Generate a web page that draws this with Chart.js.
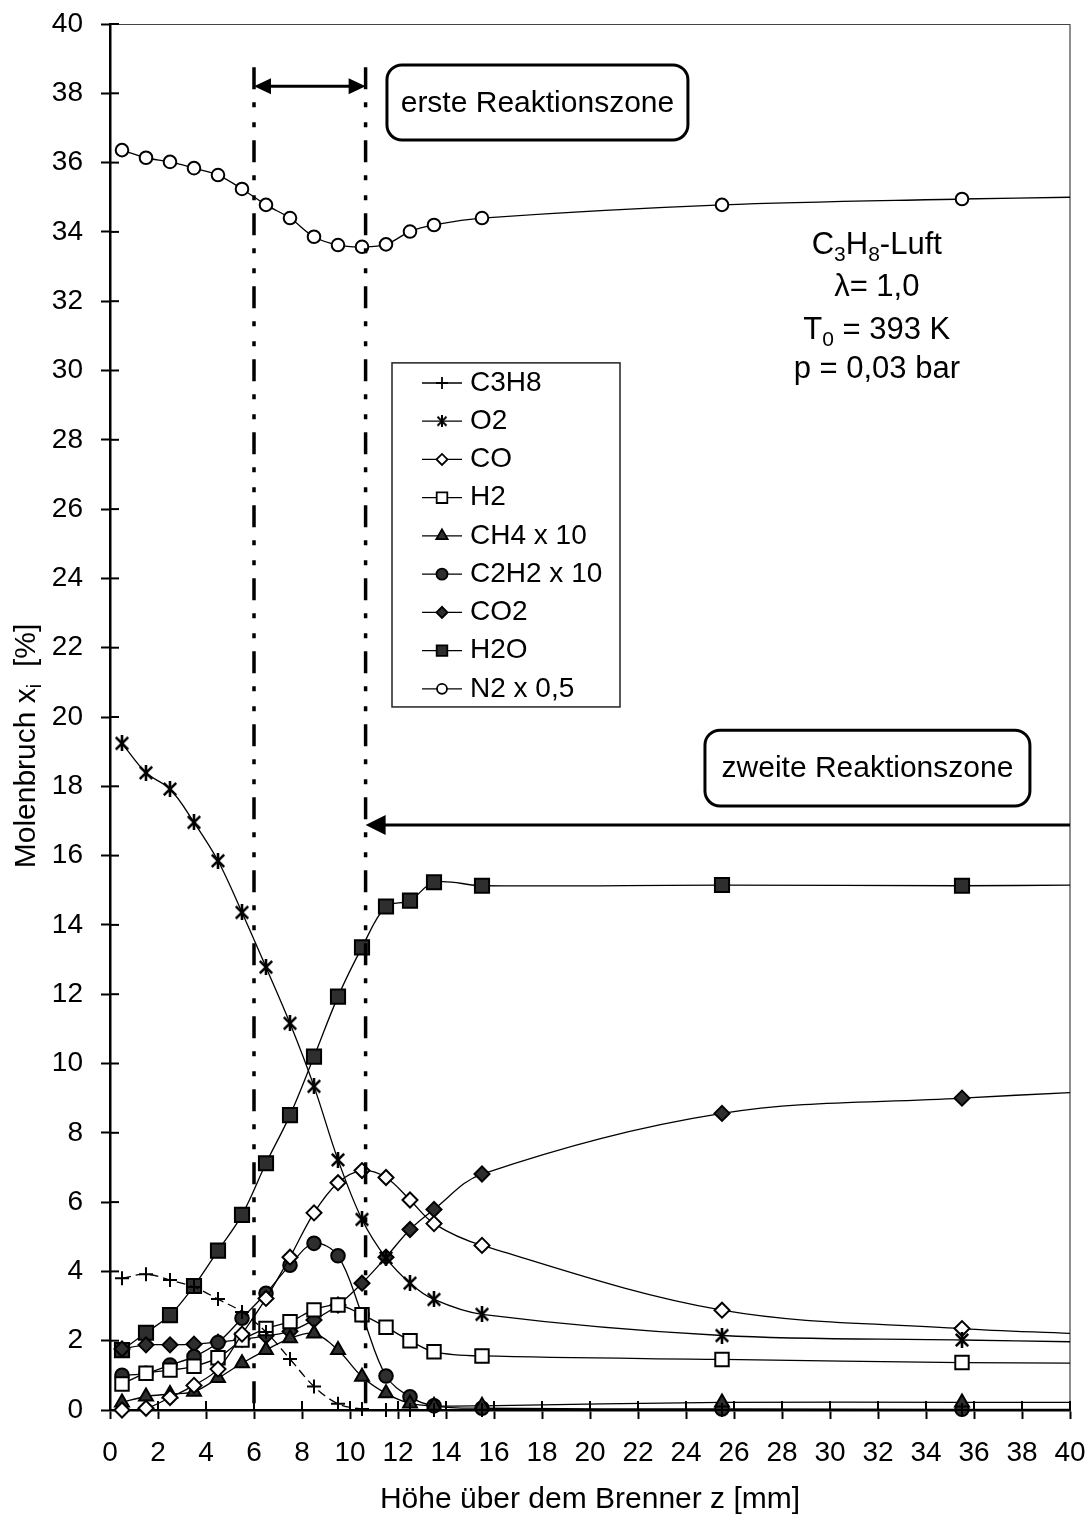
<!DOCTYPE html>
<html><head><meta charset="utf-8">
<script src="https://cdn.jsdelivr.net/npm/chart.js@4.4.1/dist/chart.umd.min.js"></script>
<style>html,body{margin:0;padding:0;background:#fff;}#wrap{width:1090px;height:1520px;}</style>
</head><body><div id="wrap"><canvas id="c" width="1090" height="1520"></canvas></div>
<script>
// ---- data ----
const heights = [0.5,1.5,2.5,3.5,4.5,5.5,6.5,7.5,8.5,9.5,10.5,11.5,12.5,13.5,15.5,25.5,35.5,40];
// last entry (z = 40) is where each curve meets the right frame (no marker there)
const c3h8 = [3.80,3.92,3.75,3.55,3.20,2.83,2.25,1.47,0.68,0.18,0.03,0,0,0,0,0,0,0];
const o2   = [19.24,18.39,17.92,16.96,15.85,14.36,12.78,11.16,9.34,7.22,5.50,4.39,3.66,3.19,2.76,2.15,2.02,1.97];
const co   = [0.0,0.05,0.36,0.71,1.18,2.19,3.22,4.41,5.69,6.56,6.91,6.71,6.06,5.38,4.75,2.88,2.35,2.21];
const h2   = [0.75,1.06,1.15,1.26,1.51,2.02,2.35,2.55,2.89,3.03,2.75,2.39,2.00,1.68,1.56,1.46,1.37,1.35];
const ch4  = [0.22,0.39,0.46,0.53,0.92,1.35,1.73,2.07,2.21,1.73,0.96,0.48,0.19,0.12,0.12,0.22,0.22,0.22];
const c2h2 = [1.00,1.06,1.30,1.54,1.95,2.65,3.37,4.18,4.81,4.45,2.75,0.98,0.38,0.12,0.05,0.03,0.02,0.02];
const co2  = [1.76,1.88,1.88,1.90,1.96,2.04,2.14,2.27,2.60,3.03,3.66,4.41,5.21,5.79,6.81,8.56,9.00,9.16];
const h2o  = [1.73,2.23,2.74,3.58,4.60,5.63,7.12,8.51,10.20,11.93,13.35,14.53,14.70,15.23,15.13,15.15,15.13,15.15];
const n2   = [36.36,36.14,36.02,35.84,35.64,35.24,34.78,34.40,33.86,33.62,33.57,33.64,34.01,34.20,34.40,34.78,34.95,35.00];
const seriesLabels = ['C3H8','O2','CO','H2','CH4 x 10','C2H2 x 10','CO2','H2O','N2 x 0,5'];
const xTickValues = [0,2,4,6,8,10,12,14,16,18,20,22,24,26,28,30,32,34,36,38,40];
const yTickValues = [0,2,4,6,8,10,12,14,16,18,20,22,24,26,28,30,32,34,36,38,40];
const zoneEdges = [6.0, 10.65];          // dash-dot boundaries of the first reaction zone
const zoneArrowLevels = [38.2, 16.88];   // heights of the two arrows
const infoLines = ['C₃H₈-Luft','λ= 1,0','T₀ = 393 K','p = 0,03 bar'];

const FONT = "'Liberation Sans', Arial, Helvetica, sans-serif";

function makeAsterisk(size, lw){
  const cv = document.createElement('canvas'); cv.width = size; cv.height = size;
  const g = cv.getContext('2d'); g.strokeStyle = '#000'; g.lineWidth = lw; g.lineCap='butt';
  const p = lw/2+0.5, q = size - p, h = size/2;
  g.beginPath();
  g.moveTo(p,p); g.lineTo(q,q); g.moveTo(q,p); g.lineTo(p,q);
  g.moveTo(h,0); g.lineTo(h,size);
  g.stroke();
  return cv;
}
const astBig = makeAsterisk(16, 2.6);
const astSmall = makeAsterisk(12, 2.0);

const DARK = '#2e2e2e';
const styles = [
  {style:'cross',    r:7,   fill:'#000', dash:[9,5], legendR:6},
  {style:astBig,     r:8,   fill:'#000', dash:[], legendImg:astSmall},
  {style:'rectRot',  r:7.5, fill:'#fff', dash:[], legendR:5.5},
  {style:'rect',     r:9.5, fill:'#fff', dash:[], legendR:7.5},
  {style:'triangle', r:8,   fill:DARK,   dash:[], legendR:6.5},
  {style:'circle',   r:6.8, fill:DARK,   dash:[], legendR:5.5},
  {style:'rectRot',  r:7.5, fill:DARK,   dash:[], legendR:5.5},
  {style:'rect',     r:10,  fill:DARK,   dash:[], legendR:7.5},
  {style:'circle',   r:6.3, fill:'#fff', dash:[], legendR:5}
];
const allSeries = [c3h8,o2,co,h2,ch4,c2h2,co2,h2o,n2];
const lastIdx = heights.length - 1;

const datasets = allSeries.map((vals,k)=>({
  label: seriesLabels[k],
  data: heights.map((h,i)=>({x:h, y:vals[i]})),
  showLine: true,
  borderColor: '#000',
  borderWidth: 1.3,
  borderDash: styles[k].dash,
  tension: 0.35,
  pointStyle: styles[k].style,
  pointRadius: c => c.dataIndex === lastIdx ? 0 : styles[k].r,
  pointHoverRadius: c => c.dataIndex === lastIdx ? 0 : styles[k].r,
  pointBackgroundColor: styles[k].fill,
  pointBorderColor: '#000',
  pointBorderWidth: 2,
  clip: false
}));

function drawMarker(ctx, s, x, y){
  ctx.save();
  ctx.fillStyle = s.fill; ctx.strokeStyle = '#000'; ctx.lineWidth = 1.8;
  if (s.legendImg){ ctx.drawImage(s.legendImg, x - s.legendImg.width/2, y - s.legendImg.height/2); ctx.restore(); return; }
  const r = s.legendR;
  ctx.beginPath();
  if (s.style === 'circle'){ ctx.arc(x,y,r,0,Math.PI*2); }
  else if (s.style === 'rect'){ const a = r*Math.SQRT1_2; ctx.rect(x-a,y-a,2*a,2*a); }
  else if (s.style === 'rectRot'){ ctx.moveTo(x-r,y); ctx.lineTo(x,y-r); ctx.lineTo(x+r,y); ctx.lineTo(x,y+r); ctx.closePath(); }
  else if (s.style === 'triangle'){ ctx.moveTo(x, y-r); ctx.lineTo(x+r*0.866, y+r*0.5); ctx.lineTo(x-r*0.866, y+r*0.5); ctx.closePath(); }
  else if (s.style === 'cross'){ ctx.moveTo(x-r,y); ctx.lineTo(x+r,y); ctx.moveTo(x,y-r); ctx.lineTo(x,y+r); }
  if (s.style !== 'cross') ctx.fill();
  ctx.stroke();
  ctx.restore();
}

function drawRich(ctx, parts, cx, cy, size){
  let w = 0;
  parts.forEach(p=>{ ctx.font = (p[1]? Math.round(size*0.68) : size) + 'px ' + FONT; w += ctx.measureText(p[0]).width; });
  let x = cx - w/2;
  ctx.textAlign = 'left'; ctx.textBaseline = 'alphabetic';
  const base = cy + size*0.36;
  parts.forEach(p=>{
    ctx.font = (p[1]? Math.round(size*0.68) : size) + 'px ' + FONT;
    ctx.fillText(p[0], x, base + (p[1]? size*0.22 : 0));
    x += ctx.measureText(p[0]).width;
  });
}

function roundBox(ctx, l, t, r, b, rad){
  ctx.beginPath();
  ctx.moveTo(l+rad,t); ctx.lineTo(r-rad,t); ctx.arcTo(r,t,r,t+rad,rad);
  ctx.lineTo(r,b-rad); ctx.arcTo(r,b,r-rad,b,rad);
  ctx.lineTo(l+rad,b); ctx.arcTo(l,b,l,b-rad,rad);
  ctx.lineTo(l,t+rad); ctx.arcTo(l,t,l+rad,t,rad);
  ctx.closePath();
}
function arrowHead(ctx, x, y, dir, len, half){
  ctx.beginPath(); ctx.moveTo(x,y); ctx.lineTo(x - dir*len, y - half); ctx.lineTo(x - dir*len, y + half); ctx.closePath(); ctx.fill();
}
function zeroPad(s){ s.paddingTop = 0; s.paddingBottom = 0; s.paddingLeft = 0; s.paddingRight = 0; }

const decor = {
  id:'decor',
  beforeDatasetsDraw(chart){
    const {ctx, chartArea:a, scales:{x,y}} = chart;
    ctx.save();
    ctx.strokeStyle = '#444'; ctx.lineWidth = 1.2;
    ctx.beginPath(); ctx.moveTo(a.left, a.top+0.5); ctx.lineTo(a.right, a.top+0.5); ctx.lineTo(a.right, a.bottom); ctx.stroke();
    ctx.strokeStyle = '#000'; ctx.lineWidth = 2;
    x.ticks.forEach(t=>{ const px = x.getPixelForValue(t.value); ctx.beginPath(); ctx.moveTo(px, a.bottom); ctx.lineTo(px, a.bottom-9); ctx.stroke(); });
    y.ticks.forEach(t=>{ const py = y.getPixelForValue(t.value); ctx.beginPath(); ctx.moveTo(a.left, py); ctx.lineTo(a.left+9, py); ctx.stroke(); });
    ctx.restore();
  },
  afterDatasetsDraw(chart){
    const {ctx, chartArea:a, scales:{x,y}} = chart;
    ctx.save();
    ctx.strokeStyle = '#000'; ctx.lineWidth = 3.5; ctx.setLineDash([22,13,5,15,5,13]);
    zoneEdges.forEach(v=>{
      const px = x.getPixelForValue(v);
      ctx.beginPath(); ctx.moveTo(px, y.getPixelForValue(38.75)); ctx.lineTo(px, a.bottom); ctx.stroke();
    });
    ctx.setLineDash([]);
    ctx.fillStyle = '#000'; ctx.lineWidth = 3;
    const ay = y.getPixelForValue(zoneArrowLevels[0]);
    const x0 = x.getPixelForValue(zoneEdges[0]), x1 = x.getPixelForValue(zoneEdges[1]);
    ctx.beginPath(); ctx.moveTo(x0+10, ay); ctx.lineTo(x1-10, ay); ctx.stroke();
    arrowHead(ctx, x0, ay, -1, 17, 8); arrowHead(ctx, x1, ay, 1, 17, 8);
    const by = y.getPixelForValue(zoneArrowLevels[1]);
    ctx.lineWidth = 3;
    ctx.beginPath(); ctx.moveTo(a.right, by); ctx.lineTo(x1+12, by); ctx.stroke();
    arrowHead(ctx, x1, by, -1, 20, 10);

    ctx.lineWidth = 3; ctx.strokeStyle = '#000';
    const b1 = [x.getPixelForValue(11.54), y.getPixelForValue(38.82), x.getPixelForValue(24.08), y.getPixelForValue(36.65)];
    roundBox(ctx, b1[0], b1[1], b1[2], b1[3], 15); ctx.fillStyle='#fff'; ctx.fill(); ctx.stroke();
    const b2 = [x.getPixelForValue(24.79), y.getPixelForValue(19.62), x.getPixelForValue(38.33), y.getPixelForValue(17.43)];
    roundBox(ctx, b2[0], b2[1], b2[2], b2[3], 15); ctx.fillStyle='#fff'; ctx.fill(); ctx.stroke();
    ctx.fillStyle = '#000'; ctx.font = '30px ' + FONT; ctx.textAlign = 'center'; ctx.textBaseline = 'middle';
    ctx.fillText('erste Reaktionszone', (b1[0]+b1[2])/2, (b1[1]+b1[3])/2 + 1);
    ctx.fillText('zweite Reaktionszone', (b2[0]+b2[2])/2, (b2[1]+b2[3])/2 + 1);

    const cx = x.getPixelForValue(31.95);
    const rows = [33.68, 32.47, 31.23, 30.12].map(v=>y.getPixelForValue(v));
    drawRich(ctx, [['C',0],['3',1],['H',0],['8',1],['-Luft',0]], cx, rows[0], 31);
    drawRich(ctx, [[infoLines[1],0]], cx, rows[1], 31);
    drawRich(ctx, [['T',0],['0',1],[' = 393 K',0]], cx, rows[2], 31);
    drawRich(ctx, [[infoLines[3],0]], cx, rows[3], 31);

    const lg = [x.getPixelForValue(11.75), y.getPixelForValue(30.22), x.getPixelForValue(21.25), y.getPixelForValue(20.29)];
    ctx.fillStyle = '#fff'; ctx.fillRect(lg[0], lg[1], lg[2]-lg[0], lg[3]-lg[1]);
    ctx.strokeStyle = '#222'; ctx.lineWidth = 1.5; ctx.strokeRect(lg[0], lg[1], lg[2]-lg[0], lg[3]-lg[1]);
    const step = (lg[3]-lg[1]) / 9;
    chart.data.datasets.forEach((ds,k)=>{
      const ry = lg[1] + step*(k+0.5) + 1;
      const sx0 = lg[0] + 30, sx1 = sx0 + 40;
      ctx.strokeStyle = '#000'; ctx.lineWidth = 1.3;
      ctx.beginPath(); ctx.moveTo(sx0, ry); ctx.lineTo(sx1, ry); ctx.stroke();
      drawMarker(ctx, styles[k], (sx0+sx1)/2, ry);
      ctx.fillStyle = '#000'; ctx.font = '28px ' + FONT; ctx.textAlign = 'left'; ctx.textBaseline = 'middle';
      ctx.fillText(ds.label, sx1 + 8, ry);
    });
    ctx.restore();
  },
  afterDraw(chart){
    const {ctx} = chart;
    ctx.save();
    ctx.translate(24, 746); ctx.rotate(-Math.PI/2);
    ctx.fillStyle = '#000';
    drawRich(ctx, [['Molenbruch x',0],['i',1],['  [%]',0]], 0, 0, 30);
    ctx.restore();
  }
};

new Chart(document.getElementById('c'), {
  type: 'scatter',
  data: { datasets },
  options: {
    responsive: false, animation: false, devicePixelRatio: 1,
    layout: { padding: {left: 0, right: 20, top: 24, bottom: 0} },
    plugins: { legend: {display:false}, tooltip: {enabled:false} },
    scales: {
      x: {
        type:'linear', min:0, max:40,
        afterBuildTicks: s => { s.ticks = xTickValues.map(v=>({value:v})); },
        afterFit: s => { s.height = 110; zeroPad(s); },
        ticks: { font:{size:28, family:FONT}, color:'#000', padding:17, maxRotation:0, autoSkip:false },
        grid: { drawOnChartArea:false, drawTicks:true, tickLength:9, tickWidth:2, tickColor:'#000' },
        border: { display:true, color:'#000', width:2.5 },
        title: { display:true, text:'Höhe über dem Brenner z [mm]', color:'#000', font:{size:30, family:FONT}, padding:{top:0, bottom:2} }
      },
      y: {
        type:'linear', min:0, max:40,
        afterBuildTicks: s => { s.ticks = yTickValues.map(v=>({value:v})); },
        afterFit: s => { s.width = 110; zeroPad(s); },
        ticks: { font:{size:28, family:FONT}, color:'#000', padding:18, autoSkip:false },
        grid: { drawOnChartArea:false, drawTicks:true, tickLength:9, tickWidth:2, tickColor:'#000' },
        border: { display:true, color:'#000', width:2.5 }
      }
    }
  },
  plugins: [decor]
});
</script>
</body></html>
